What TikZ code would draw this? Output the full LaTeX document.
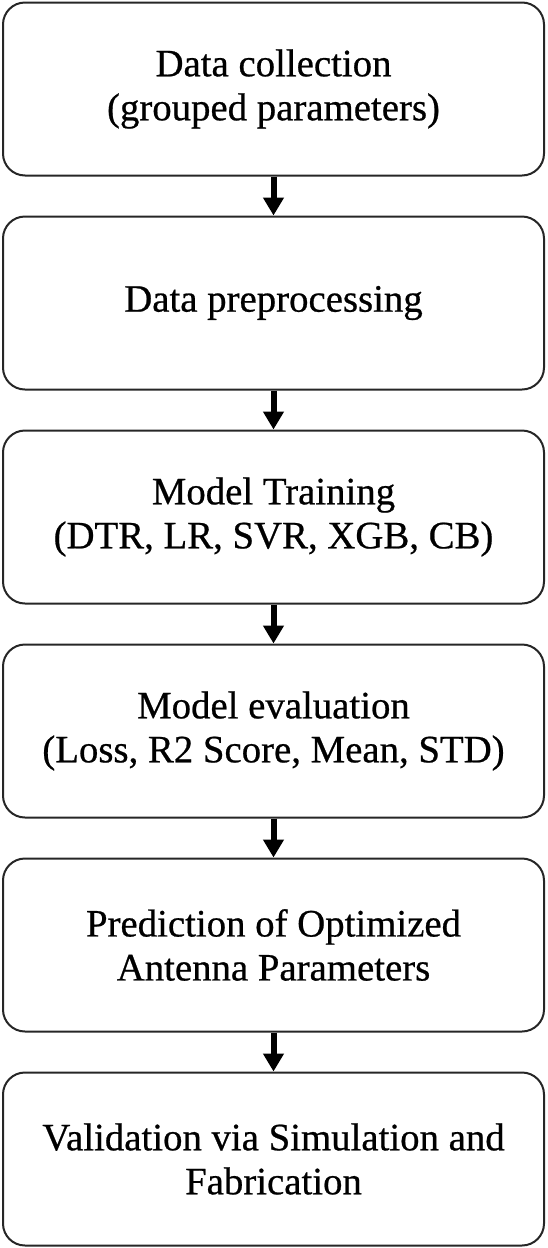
\documentclass[tikz,border=0pt]{standalone}
\usepackage{fontspec}
\setmainfont[FakeBold=0.6]{Liberation Serif}
\usetikzlibrary{arrows.meta}
\begin{document}
\begin{tikzpicture}[x=1pt,y=1pt,
  stepbox/.style={draw=black!85, line width=2pt, rounded corners=22pt,
    minimum width=541pt, minimum height=173pt, align=center,
    font=\fontsize{38.8}{44}\selectfont, inner sep=0pt},
  flowarrow/.style={line width=6pt, -{Triangle[width=20pt,length=18pt]}}]
\useasboundingbox (0,0) rectangle (548,-1248);
\node[stepbox] (b1) at (273.5,-89) {Data collection\\(grouped parameters)};
\node[stepbox] (b2) at (273.5,-303) {Data preprocessing};
\node[stepbox] (b3) at (273.5,-517) {Model Training\\(DTR, LR, SVR, XGB, CB)};
\node[stepbox] (b4) at (273.5,-731) {Model evaluation\\(Loss, R2 Score, Mean, STD)};
\node[stepbox] (b5) at (273.5,-945) {Prediction of Optimized\\Antenna Parameters};
\node[stepbox] (b6) at (273.5,-1159) {Validation via Simulation and\\Fabrication};
\draw[flowarrow] (b1.south) -- (b2.north);
\draw[flowarrow] (b2.south) -- (b3.north);
\draw[flowarrow] (b3.south) -- (b4.north);
\draw[flowarrow] (b4.south) -- (b5.north);
\draw[flowarrow] (b5.south) -- (b6.north);
\end{tikzpicture}
\end{document}
